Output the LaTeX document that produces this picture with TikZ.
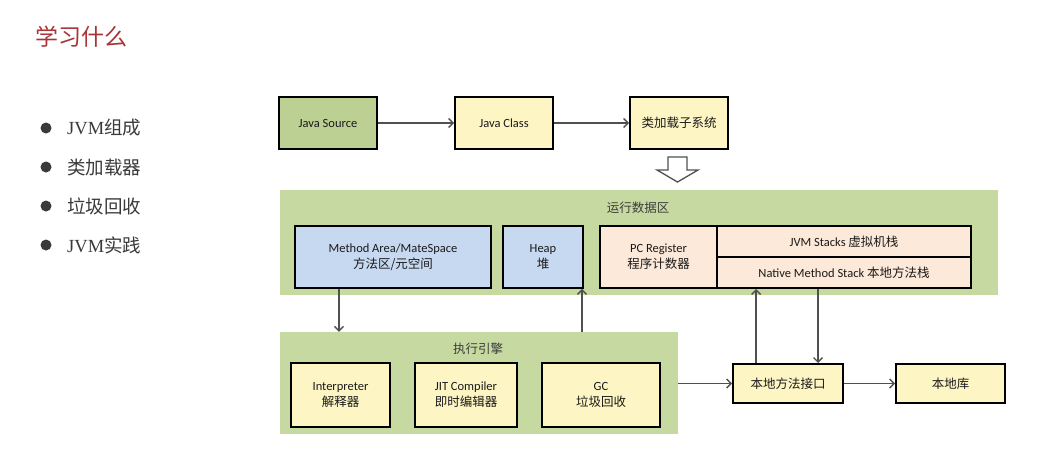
\documentclass[tikz,border=0pt]{standalone}
\usepackage{fontspec}
\setmainfont{Carlito}
\newfontfamily\cjk{Noto Sans CJK SC}
\newfontfamily\serifl{Liberation Serif}
\usetikzlibrary{arrows.meta}
\definecolor{regiongreen}{HTML}{C6D9A0}
\definecolor{srcgreen}{HTML}{BDD093}
\definecolor{boxyellow}{HTML}{FDF5C3}
\definecolor{boxblue}{HTML}{C6D9F1}
\definecolor{boxpeach}{HTML}{FDE9D9}
\definecolor{connGray}{HTML}{505050}
\definecolor{titlered}{RGB}{168,52,56}
\definecolor{bulletgray}{HTML}{3A3A3A}
\definecolor{textdark}{HTML}{1A1A1A}
\begin{document}
\begin{tikzpicture}[x=1pt,y=-1pt,
  box/.style={draw=black, line width=1.9pt, align=center, inner sep=0pt,
    font=\fontsize{12.5}{16}\selectfont, text=textdark},
  region/.style={fill=regiongreen, draw=none, inner sep=0pt},
  lbl/.style={font=\fontsize{12.5}{16}\selectfont, text=textdark!85, inner sep=0pt},
  conn/.style={draw=connGray, line width=1.4pt, -{Straight Barb[length=4.5pt,width=9pt]}},
  bul/.style={anchor=west, inner sep=0pt, text=bulletgray, font=\fontsize{18.5}{22}\selectfont}
]
\useasboundingbox[fill=white] (0,0) rectangle (1048,475);

% title
\node[inner sep=0pt, text=titlered, font=\cjk\fontsize{23}{26}\selectfont] (title) at (81,37) {学习什么};

% bullets
\fill[bulletgray] (46,128) circle (5.5);
\fill[bulletgray] (46,167) circle (5.5);
\fill[bulletgray] (46,206) circle (5.5);
\fill[bulletgray] (46,245) circle (5.5);
\node[bul] (b1) at (67,128) {{\serifl JVM}{\cjk 组成}};
\node[bul] (b2) at (67,167) {\cjk 类加载器};
\node[bul] (b3) at (67,206) {\cjk 垃圾回收};
\node[bul] (b4) at (67,245) {{\serifl JVM}{\cjk 实践}};

% top row
\node[box, fill=srcgreen, minimum width=98pt, minimum height=52pt] (js) at (328,123) {Java Source};
\node[box, fill=boxyellow, minimum width=98pt, minimum height=52pt] (jc) at (504,123) {Java Class};
\node[box, fill=boxyellow, minimum width=98pt, minimum height=52pt] (cl) at (679,123) {\cjk 类加载子系统};
\draw[conn] (js) -- (jc);
\draw[conn] (jc) -- (cl);

% hollow arrow
\draw[draw=connGray, line width=1.3pt, fill=white, line join=miter]
  (668,157) -- (687,157) -- (687,170) -- (698,170) -- (677.5,182) -- (657,170) -- (668,170) -- cycle;

% runtime data area
\node[region, minimum width=718pt, minimum height=105pt] (rd) at (639,242.5) {};
\node[lbl] (rdl) at (638,208) {\cjk 运行数据区};
\node[box, fill=boxblue, minimum width=196pt, minimum height=62pt] (ma) at (393,257) {Method Area/MateSpace\\{\cjk 方法区/元空间}};
\node[box, fill=boxblue, minimum width=80pt, minimum height=62pt] (heap) at (543,257) {Heap\\{\cjk 堆}};
\node[box, fill=boxpeach, minimum width=117pt, minimum height=62pt] (pc) at (658.5,257) {PC Register\\{\cjk 程序计数器}};
\node[box, fill=boxpeach, minimum width=254pt, minimum height=31pt] (jvms) at (844,241.5) {JVM Stacks {\cjk 虚拟机栈}};
\node[box, fill=boxpeach, minimum width=254pt, minimum height=31pt] (nms) at (844,272.5) {Native Method Stack {\cjk 本地方法栈}};

% execution engine
\node[region, minimum width=398pt, minimum height=102pt] (ee) at (479,383) {};
\node[lbl] (eel) at (478,349) {\cjk 执行引擎};
\node[box, fill=boxyellow, minimum width=99pt, minimum height=64pt] (interp) at (340.5,395) {Interpreter\\{\cjk 解释器}};
\node[box, fill=boxyellow, minimum width=102pt, minimum height=64pt] (jit) at (466,395) {JIT Compiler\\{\cjk 即时编辑器}};
\node[box, fill=boxyellow, minimum width=118pt, minimum height=64pt] (gc) at (601,395) {GC\\{\cjk 垃圾回收}};

% native
\node[box, fill=boxyellow, minimum width=110pt, minimum height=39pt] (ni) at (788,383.5) {\cjk 本地方法接口};
\node[box, fill=boxyellow, minimum width=109pt, minimum height=39pt] (nl) at (950.5,383.5) {\cjk 本地库};

% connectors
\draw[conn] ([xshift=45pt]ma.south west) -- ([xshift=45pt]ma.south west |- ee.north);
\draw[conn] ([xshift=-2pt]heap.south east |- ee.north) -- ([xshift=-2pt]heap.south east);
\draw[conn] (ee.east |- ni.west) -- (ni.west);
\draw[conn] (ni) -- (nl);
\draw[conn] ([xshift=24pt]ni.north west) -- ([xshift=24pt]ni.north west |- nms.south);
\draw[conn] ([xshift=86pt]ni.north west |- nms.south) -- ([xshift=86pt]ni.north west);
\end{tikzpicture}
\end{document}
